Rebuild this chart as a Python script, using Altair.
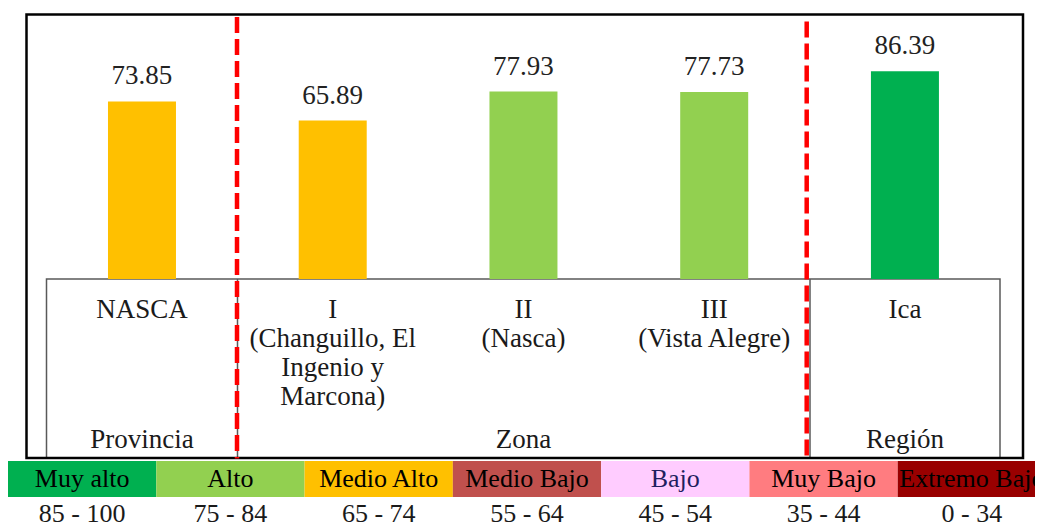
import altair as alt
import pandas as pd

# ---- data ----
categories = ["NASCA", "I", "II", "III", "Ica"]
cat_labels = ["NASCA", "I\n(Changuillo, El\nIngenio y\nMarcona)", "II\n(Nasca)",
              "III\n(Vista Alegre)", "Ica"]
values = [73.85, 65.89, 77.93, 77.73, 86.39]
bar_colors = ["#FFC000", "#FFC000", "#92D050", "#92D050", "#00B050"]
group_labels = ["Provincia", "", "Zona", "", "Región"]

levels = ["Muy alto", "Alto", "Medio Alto", "Medio Bajo", "Bajo", "Muy Bajo", "Extremo Bajo"]
level_ranges = ["85 - 100", "75 - 84", "65 - 74", "55 - 64", "45 - 54", "35 - 44", "0 - 34"]
level_colors = ["#00B050", "#92D050", "#FFC000", "#C0504D", "#FFCCFF", "#FF7C80", "#990000"]
level_text_colors = ["#000000", "#000000", "#000000", "#000000", "#1F1F5F", "#000000", "#000000"]

bars_df = pd.DataFrame({
    "cat": categories, "label": cat_labels, "value": values,
    "color": bar_colors, "group": group_labels,
})
leg_df = pd.DataFrame({
    "level": levels, "range": level_ranges, "fill": level_colors, "tcolor": level_text_colors,
})
one = pd.DataFrame({"d": [0]})

FONT = "Liberation Serif, Times New Roman, Times, serif"

xband = alt.Scale(type="band", domain=categories, paddingInner=0.6435,
                  paddingOuter=0.5139, align=0.51)
X = alt.X("cat:N", sort=categories, scale=xband, axis=None)
Y = alt.Y("value:Q", scale=alt.Scale(domain=[0, 110]), axis=None)
XL = alt.X("level:N", sort=levels,
           scale=alt.Scale(type="band", domain=levels, range=[0, 1038],
                           paddingInner=0, paddingOuter=0), axis=None)

# table box under the bars
table = alt.Chart(one).mark_rect(fillOpacity=0, stroke="#595959", strokeWidth=1.5).encode(
    x=alt.value(38.5), x2=alt.value(992), y=alt.value(264.5), y2=alt.value(443.5))
div1 = alt.Chart(one).mark_rule(color="#595959", strokeWidth=1.5).encode(
    x=alt.value(229.5), y=alt.value(264.5), y2=alt.value(443.5))
div2 = alt.Chart(one).mark_rule(color="#595959", strokeWidth=1.5).encode(
    x=alt.value(802), y=alt.value(264.5), y2=alt.value(443.5))

bars = alt.Chart(bars_df).mark_bar().encode(
    x=X, y=Y, color=alt.Color("color:N", scale=None))

vlabels = alt.Chart(bars_df).mark_text(
    baseline="alphabetic", dy=-17, font=FONT, fontSize=27, color="#222222").encode(
    x=X, y=Y, text=alt.Text("value:Q", format=".2f"))

clabels = alt.Chart(bars_df).mark_text(
    baseline="alphabetic", font=FONT, fontSize=27, lineBreak="\n", lineHeight=29,
    color="#1a1a1a").encode(
    x=X, y=alt.value(303.5), text="label:N")

glabels = alt.Chart(bars_df).mark_text(
    baseline="alphabetic", font=FONT, fontSize=27, color="#1a1a1a").encode(
    x=X, y=alt.value(433.5), text="group:N")

red1 = alt.Chart(one).mark_rule(color="#FF0000", strokeWidth=4.5, strokeDash=[16, 6]).encode(
    x=alt.value(229), y=alt.value(2.5), y2=alt.value(444))
red2 = alt.Chart(one).mark_rule(color="#FF0000", strokeWidth=4.5, strokeDash=[16, 6]).encode(
    x=alt.value(798.7), y=alt.value(7), y2=alt.value(447))

frame = alt.Chart(one).mark_rect(fillOpacity=0, stroke="#000000", strokeWidth=2.5).encode(
    x=alt.value(18.5), x2=alt.value(1015), y=alt.value(0), y2=alt.value(443.5))

leg_boxes = alt.Chart(leg_df).mark_rect().encode(
    x=XL, y=alt.value(446.5), y2=alt.value(482.5), color=alt.Color("fill:N", scale=None))
leg_names = alt.Chart(leg_df).mark_text(
    baseline="alphabetic", font=FONT, fontSize=26).encode(
    x=XL, y=alt.value(472.5), text="level:N", color=alt.Color("tcolor:N", scale=None))
leg_ranges = alt.Chart(leg_df).mark_text(
    baseline="alphabetic", font=FONT, fontSize=26, color="#1a1a1a").encode(
    x=XL, y=alt.value(507.5), text="range:N")

chart = alt.layer(
    table, div1, div2, bars, vlabels, clabels, glabels, frame, red1, red2,
    leg_boxes, leg_names, leg_ranges,
).resolve_scale(x="independent").properties(
    width=1027, height=264.5,
    autosize=alt.AutoSizeParams(type="none"),
    padding={"left": 0, "top": 6.5, "right": 0, "bottom": 245},
    background="#FFFFFF",
).configure_view(stroke=None)

chart.save("out.html", embed_options={"renderer": "svg", "actions": False})
